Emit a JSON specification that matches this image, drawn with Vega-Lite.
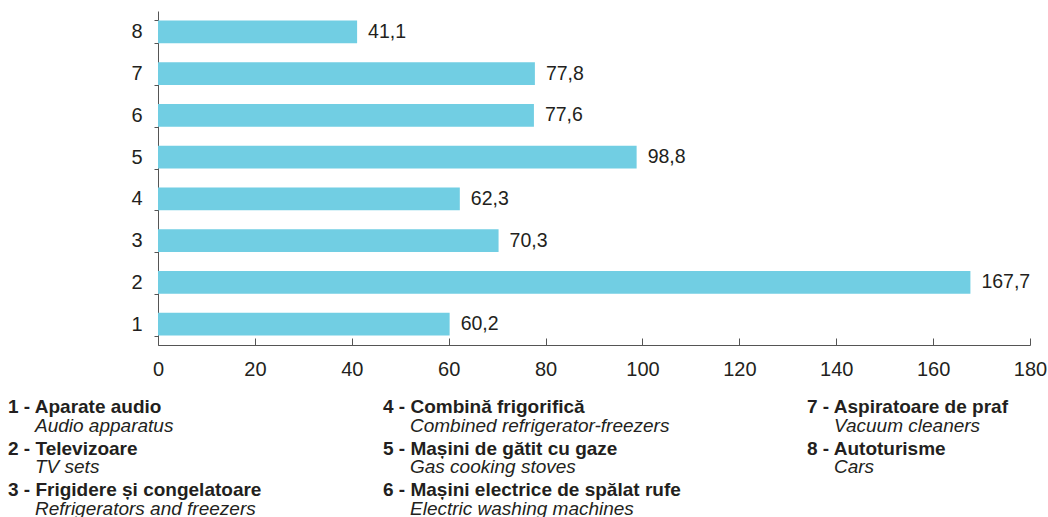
{
  "$schema": "https://vega.github.io/schema/vega-lite/v6.json",
  "width": 872,
  "height": 334,
  "autosize": {"type": "none"},
  "padding": {"left": 158, "top": 11, "right": 18, "bottom": 172},
  "config": {"view": {"stroke": null}, "font": "Liberation Sans"},
  "data": {
    "values": [
      {"n": 1, "value": 60.2, "ro": "Aparate audio", "en": "Audio apparatus"},
      {"n": 2, "value": 167.7, "ro": "Televizoare", "en": "TV sets"},
      {"n": 3, "value": 70.3, "ro": "Frigidere și congelatoare", "en": "Refrigerators and freezers"},
      {"n": 4, "value": 62.3, "ro": "Combină frigorifică", "en": "Combined refrigerator-freezers"},
      {"n": 5, "value": 98.8, "ro": "Mașini de gătit cu gaze", "en": "Gas cooking stoves"},
      {"n": 6, "value": 77.6, "ro": "Mașini electrice de spălat rufe", "en": "Electric washing machines"},
      {"n": 7, "value": 77.8, "ro": "Aspiratoare de praf", "en": "Vacuum cleaners"},
      {"n": 8, "value": 41.1, "ro": "Autoturisme", "en": "Cars"}
    ]
  },
  "transform": [
    {"calculate": "floor((datum.n - 1) / 3)", "as": "col"},
    {"calculate": "(datum.n - 1) % 3", "as": "row"},
    {"calculate": "replace(format(datum.value, '.1f'), '.', ',')", "as": "lbl"},
    {"calculate": "datum.n + ' - ' + datum.ro", "as": "head"}
  ],
  "layer": [
    {
      "layer": [
        {
          "mark": {"type": "bar", "color": "#71CEE3"},
          "encoding": {
            "y": {
              "field": "n", "type": "ordinal", "sort": "descending",
              "scale": {"paddingInner": 0.45, "paddingOuter": 0.225},
              "axis": {
                "title": null, "labelAngle": 0, "labelFontSize": 20, "labelColor": "#231f20",
                "tickBand": "extent", "tickSize": 4, "labelPadding": 12,
                "domainColor": "#555555", "tickColor": "#555555", "grid": false
              }
            },
            "x": {
              "field": "value", "type": "quantitative",
              "scale": {"domain": [0, 180], "nice": false},
              "axis": {
                "title": null, "values": [0, 20, 40, 60, 80, 100, 120, 140, 160, 180],
                "labelFontSize": 20, "labelColor": "#231f20", "tickSize": -7, "labelPadding": 21,
                "domainColor": "#555555", "tickColor": "#555555", "grid": false, "labelFlush": false
              }
            }
          }
        },
        {
          "mark": {"type": "text", "align": "left", "baseline": "middle", "dx": 11, "fontSize": 19.5, "color": "#231f20"},
          "encoding": {
            "y": {"field": "n", "type": "ordinal", "sort": "descending"},
            "x": {"field": "value", "type": "quantitative"},
            "text": {"field": "lbl"}
          }
        }
      ]
    },
    {
      "layer": [
        {
          "mark": {"type": "text", "align": "left", "baseline": "middle", "fontSize": 19, "fontWeight": "bold", "color": "#231f20"},
          "encoding": {
            "x": {"field": "col", "type": "quantitative", "scale": {"domain": [0, 1, 2], "range": [-150, 225, 649], "nice": false, "zero": false}, "axis": null},
            "y": {"field": "row", "type": "quantitative", "scale": {"domain": [0, 2], "range": [396, 479], "nice": false, "zero": false}, "axis": null},
            "text": {"field": "head"}
          }
        },
        {
          "mark": {"type": "text", "align": "left", "baseline": "middle", "fontSize": 19, "fontStyle": "italic", "dx": 27, "dy": 18.5, "color": "#231f20"},
          "encoding": {
            "x": {"field": "col", "type": "quantitative", "scale": {"domain": [0, 1, 2], "range": [-150, 225, 649], "nice": false, "zero": false}, "axis": null},
            "y": {"field": "row", "type": "quantitative", "scale": {"domain": [0, 2], "range": [396, 479], "nice": false, "zero": false}, "axis": null},
            "text": {"field": "en"}
          }
        }
      ]
    }
  ],
  "resolve": {"scale": {"x": "independent", "y": "independent"}}
}
